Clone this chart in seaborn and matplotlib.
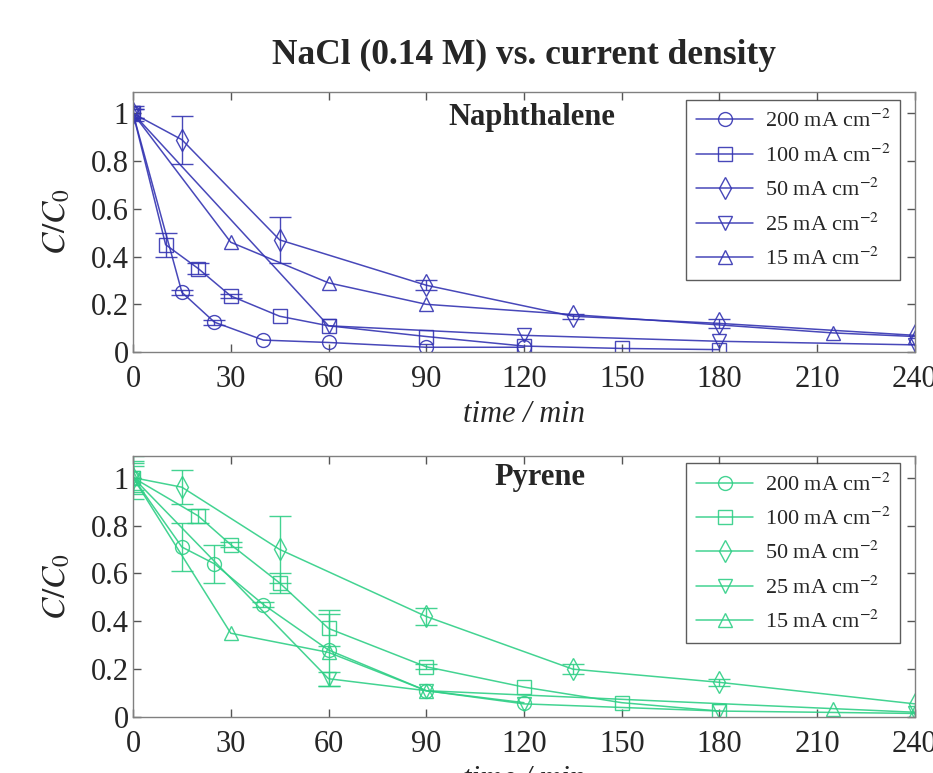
import matplotlib
matplotlib.use("Agg")
import matplotlib.pyplot as plt
import seaborn as sns
import pandas as pd

# series labels and markers
labels = ["200 mA cm$^{-2}$", "100 mA cm$^{-2}$", "50 mA cm$^{-2}$",
          "25 mA cm$^{-2}$", "15 mA cm$^{-2}$"]
markers = ["o", "s", "d", "v", "^"]

# Naphthalene
nap_t200 = [0, 15, 25, 40, 60, 90, 120]
nap_y200 = [1, 0.25, 0.125, 0.05, 0.04, 0.02, 0.02]
nap_e200 = [0.02, 0.01, 0.01, 0, 0, 0, 0]
nap_t100 = [0, 10, 20, 30, 45, 60, 90, 120, 150, 180]
nap_y100 = [1, 0.45, 0.35, 0.235, 0.15, 0.11, 0.065, 0.025, 0.015, 0.01]
nap_e100 = [0.02, 0.05, 0.025, 0.01, 0, 0, 0, 0, 0, 0]
nap_t50 = [0, 15, 45, 90, 135, 180, 240]
nap_y50 = [1, 0.89, 0.47, 0.28, 0.15, 0.12, 0.07]
nap_e50 = [0.03, 0.1, 0.095, 0.02, 0.01, 0.02, 0]
nap_t25 = [0, 60, 120, 180, 240]
nap_y25 = [1, 0.11, 0.07, 0.045, 0.03]
nap_e25 = [0, 0, 0, 0, 0]
nap_t15 = [0, 30, 60, 90, 215, 240]
nap_y15 = [1, 0.46, 0.29, 0.2, 0.08, 0.065]
nap_e15 = [0, 0, 0, 0, 0, 0]

# Pyrene
pyr_t200 = [0, 15, 25, 40, 60, 90, 120]
pyr_y200 = [1, 0.71, 0.64, 0.47, 0.28, 0.11, 0.06]
pyr_e200 = [0.09, 0.1, 0.08, 0.01, 0.15, 0, 0]
pyr_t100 = [0, 20, 30, 45, 60, 90, 120, 150, 180]
pyr_y100 = [1, 0.84, 0.72, 0.56, 0.37, 0.21, 0.125, 0.06, 0.025]
pyr_e100 = [0.05, 0.03, 0.01, 0.04, 0.075, 0.01, 0, 0, 0]
pyr_t50 = [0, 15, 45, 90, 135, 180, 240]
pyr_y50 = [1, 0.96, 0.70, 0.42, 0.20, 0.145, 0.055]
pyr_e50 = [0.07, 0.07, 0.14, 0.035, 0.02, 0.015, 0]
pyr_t25 = [0, 60, 90, 120, 180, 240]
pyr_y25 = [1, 0.16, 0.11, 0.055, 0.025, 0.015]
pyr_e25 = [0.06, 0.03, 0, 0, 0, 0]
pyr_t15 = [0, 30, 60, 90, 215, 240]
pyr_y15 = [1, 0.35, 0.27, 0.11, 0.035, 0.02]
pyr_e15 = [0, 0, 0, 0, 0, 0]

xticks = [0, 30, 60, 90, 120, 150, 180, 210, 240]
yticks = [0, 0.2, 0.4, 0.6, 0.8, 1]

sns.set_style("ticks")
plt.rcParams['font.family'] = ['Liberation Serif', 'DejaVu Serif']
plt.rcParams['mathtext.fontset'] = 'stix'

fig = plt.figure(figsize=(9.33, 7.73), dpi=100)
ax1 = fig.add_axes([0.1426, 0.5446, 0.838, 0.3364])
ax2 = fig.add_axes([0.1426, 0.0724, 0.838, 0.3376])

panels = [
    (ax1, "Naphthalene", "#3434b2",
     [(nap_t200, nap_y200, nap_e200), (nap_t100, nap_y100, nap_e100),
      (nap_t50, nap_y50, nap_e50), (nap_t25, nap_y25, nap_e25),
      (nap_t15, nap_y15, nap_e15)], (0.51, 0.90), (0.981, 0.969)),
    (ax2, "Pyrene", "#2fcf86",
     [(pyr_t200, pyr_y200, pyr_e200), (pyr_t100, pyr_y100, pyr_e100),
      (pyr_t50, pyr_y50, pyr_e50), (pyr_t25, pyr_y25, pyr_e25),
      (pyr_t15, pyr_y15, pyr_e15)], (0.52, 0.916), (0.981, 0.973)),
]

for ax, name, c, series, txtpos, legpos in panels:
    for (t, y, e), lab, m in zip(series, labels, markers):
        df = pd.DataFrame({"time": t, "C": y, "err": e})
        ms = 11 if m == "d" else 10
        sns.lineplot(data=df, x="time", y="C", ax=ax, color=c, marker=m,
                     markersize=ms, markerfacecolor="none", markeredgecolor=c,
                     markeredgewidth=1.0, linewidth=1.1, alpha=0.9, label=lab)
        d = df[df["err"] > 0]
        ax.errorbar(d["time"], d["C"], yerr=d["err"], fmt="none", ecolor=c,
                    elinewidth=1.0, capsize=8, capthick=1.0, alpha=0.9)
    ax.set_xlim(0, 240)
    ax.set_ylim(0, 1.09)
    ax.set_xticks(xticks)
    ax.set_yticks(yticks)
    ax.set_yticklabels(["0", "0.2", "0.4", "0.6", "0.8", "1"])
    ax.tick_params(direction="in", top=True, right=True, length=6,
                   width=1, color="#555555", labelsize=22)
    ax.tick_params(axis="x", pad=9)
    ax.tick_params(axis="y", pad=3)
    for s in ax.spines.values():
        s.set_color("#808080")
        s.set_linewidth(1.0)
    ax.set_xlabel("time / min", fontsize=22, style="italic", labelpad=5)
    ax.set_ylabel("$C/C_0$", fontsize=24, labelpad=13)
    ax.text(txtpos[0], txtpos[1], name, transform=ax.transAxes, ha="center",
            va="center", fontsize=22, fontweight="bold")
    leg = ax.legend(loc="upper right", bbox_to_anchor=legpos, borderaxespad=0,
                    fontsize=16, frameon=True, fancybox=False, edgecolor="#333333",
                    handlelength=2.6, labelspacing=0.55, borderpad=0.45,
                    handletextpad=0.5, numpoints=1)
    leg.get_frame().set_linewidth(1.0)

fig.text(524 / 933, 1 - 55 / 773, "NaCl (0.14 M) vs. current density",
         ha="center", va="center", fontsize=25.5, fontweight="bold")

fig.savefig("out.png", dpi=100)
